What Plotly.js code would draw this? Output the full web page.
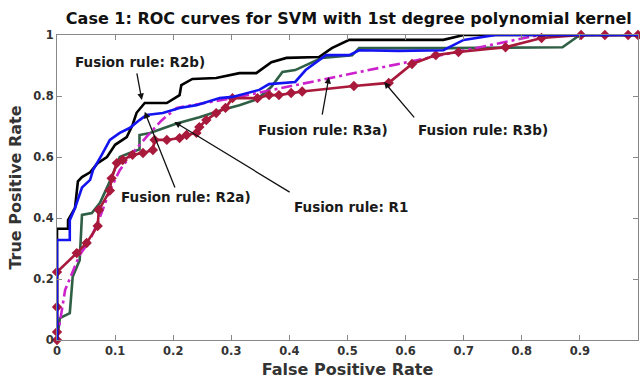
<!DOCTYPE html>
<html>
<head>
<meta charset="utf-8">
<script src="https://cdn.plot.ly/plotly-3.0.1.min.js"></script>
<style>html,body{margin:0;padding:0;background:#fff;}#chart{width:640px;height:380px;}</style>
</head>
<body>
<div id="chart"></div>
<script>
// Fusion rule R2b (black)
const r2bX = [0, 0, 0.019, 0.019, 0.031, 0.036, 0.043, 0.057, 0.07, 0.086, 0.1, 0.12, 0.13, 0.137, 0.151, 0.189, 0.211, 0.214, 0.233, 0.274, 0.314, 0.343, 0.369, 0.395, 0.451, 0.473, 0.503, 0.665, 0.70, 1];
const r2bY = [0, 0.365, 0.365, 0.393, 0.433, 0.52, 0.534, 0.55, 0.58, 0.60, 0.64, 0.665, 0.705, 0.745, 0.777, 0.777, 0.803, 0.836, 0.856, 0.859, 0.875, 0.875, 0.911, 0.925, 0.928, 0.957, 0.984, 0.984, 1, 1];
// Fusion rule R2a (blue)
const r2aX = [0, 0, 0.022, 0.022, 0.031, 0.043, 0.057, 0.062, 0.077, 0.091, 0.108, 0.125, 0.142, 0.154, 0.182, 0.211, 0.24, 0.28, 0.302, 0.348, 0.365, 0.41, 0.428, 0.463, 0.503, 0.52, 0.588, 0.665, 0.70, 0.755, 1];
const r2aY = [0, 0.328, 0.328, 0.393, 0.433, 0.50, 0.525, 0.557, 0.607, 0.656, 0.679, 0.695, 0.721, 0.738, 0.744, 0.761, 0.77, 0.793, 0.797, 0.82, 0.839, 0.846, 0.885, 0.934, 0.934, 0.95, 0.948, 0.95, 0.984, 1, 1];
// Fusion rule R1 (green)
const r1X = [0, 0.005, 0.022, 0.026, 0.027, 0.039, 0.043, 0.06, 0.074, 0.091, 0.1, 0.108, 0.125, 0.142, 0.142, 0.16, 0.177, 0.206, 0.245, 0.285, 0.314, 0.345, 0.369, 0.388, 0.41, 0.456, 0.508, 0.52, 0.674, 0.87, 0.9, 1];
const r1Y = [0, 0.072, 0.088, 0.197, 0.207, 0.262, 0.41, 0.416, 0.45, 0.52, 0.56, 0.60, 0.613, 0.625, 0.672, 0.679, 0.69, 0.71, 0.73, 0.755, 0.77, 0.79, 0.83, 0.879, 0.885, 0.925, 0.934, 0.957, 0.957, 0.96, 1, 1];
// Fusion rule R3a (magenta, dash-dot)
const r3aX = [0, 0.005, 0.014, 0.039, 0.057, 0.074, 0.091, 0.108, 0.13, 0.154, 0.18, 0.206, 0.257, 0.302, 0.83, 1];
const r3aY = [0, 0.055, 0.164, 0.279, 0.328, 0.403, 0.49, 0.557, 0.613, 0.666, 0.72, 0.761, 0.777, 0.793, 1, 1];
// Fusion rule R3b (red, diamonds)
const r3bX = [0, 0, 0, 0, 0.034, 0.051, 0.07, 0.072, 0.091, 0.094, 0.103, 0.113, 0.13, 0.148, 0.165, 0.168, 0.189, 0.211, 0.223, 0.24, 0.245, 0.257, 0.274, 0.29, 0.302, 0.345, 0.365, 0.382, 0.403, 0.422, 0.511, 0.571, 0.611, 0.652, 0.691, 0.772, 0.834, 0.902, 0.943, 0.983, 1];
const r3bY = [0, 0.026, 0.108, 0.223, 0.285, 0.318, 0.374, 0.426, 0.49, 0.53, 0.58, 0.59, 0.607, 0.613, 0.623, 0.656, 0.656, 0.662, 0.672, 0.679, 0.698, 0.721, 0.744, 0.761, 0.793, 0.793, 0.803, 0.803, 0.81, 0.815, 0.833, 0.843, 0.905, 0.934, 0.944, 0.96, 0.99, 1, 1, 1, 1];

const xTicks = [0, 0.1, 0.2, 0.3, 0.4, 0.5, 0.6, 0.7, 0.8, 0.9, 1];
const xTickText = ['0', '0.1', '0.2', '0.3', '0.4', '0.5', '0.6', '0.7', '0.8', '0.9', '1'];
const yTicks = [0, 0.2, 0.4, 0.6, 0.8, 1];
const yTickText = ['0', '0.2', '0.4', '0.6', '0.8', '1'];

// label: [text, textX, textY, headX, headY, tailX, tailY]
const labels = [
  ['Fusion rule: R2b)', 0.142, 0.911, 0.146, 0.787, 0.137, 0.879],
  ['Fusion rule: R2a)', 0.222, 0.469, 0.151, 0.748, 0.204, 0.495],
  ['Fusion rule: R1', 0.506, 0.436, 0.202, 0.715, 0.403, 0.482],
  ['Fusion rule: R3a)', 0.458, 0.689, 0.468, 0.862, 0.456, 0.734],
  ['Fusion rule: R3b)', 0.734, 0.689, 0.563, 0.846, 0.617, 0.725]
];

const FONT = 'DejaVu Sans, Liberation Sans, Arial, sans-serif';

const traces = [
  {x: r1X, y: r1Y, mode: 'lines', line: {color: '#2f5f45', width: 2.6}, name: 'R1'},
  {x: r3aX, y: r3aY, mode: 'lines', line: {color: '#cc22cc', width: 2.6, dash: '11px,4px,3px,4px'}, name: 'R3a'},
  {x: r3bX, y: r3bY, mode: 'lines+markers', line: {color: '#a8193b', width: 2.6},
   marker: {symbol: 'diamond', size: 8, color: '#a8193b'}, cliponaxis: false, name: 'R3b'},
  {x: r2bX, y: r2bY, mode: 'lines', line: {color: '#000000', width: 2.6}, name: 'R2b'},
  {x: r2aX, y: r2aY, mode: 'lines', line: {color: '#1414f0', width: 2.6}, name: 'R2a'}
];
const annotations = [];
labels.forEach(l => {
  annotations.push({x: l[1], y: l[2], xref: 'x', yref: 'y', text: l[0], showarrow: false,
    font: {family: FONT, size: 13.5, color: '#1a1a1a', weight: 'bold'}});
  annotations.push({x: l[3], y: l[4], xref: 'x', yref: 'y', ax: l[5], ay: l[6], axref: 'x', ayref: 'y',
    text: '', showarrow: true, arrowhead: 2, arrowsize: 1, arrowwidth: 1.3, arrowcolor: '#111'});
});

const axisCommon = {
  showgrid: false, zeroline: false, showline: true, linecolor: '#888', linewidth: 1,
  mirror: 'ticks', ticks: 'inside', ticklen: 5, tickcolor: '#888',
  tickfont: {family: FONT, size: 11.5, color: '#333', weight: 'bold'}
};

const layout = {
  width: 640, height: 380,
  margin: {l: 57, r: 2, t: 35, b: 40},
  paper_bgcolor: '#fff', plot_bgcolor: '#fff',
  showlegend: false,
  title: {text: 'Case 1: ROC curves for SVM with 1st degree polynomial kernel',
    font: {family: FONT, size: 16, color: '#111', weight: 'bold'},
    x: 0.545, xref: 'container', xanchor: 'center', y: 0.952, yref: 'container', yanchor: 'middle'},
  xaxis: Object.assign({}, axisCommon, {range: [0, 1], tickvals: xTicks, ticktext: xTickText,
    title: {text: 'False Positive Rate', font: {family: FONT, size: 16, color: '#333', weight: 'bold'}, standoff: 7}}),
  yaxis: Object.assign({}, axisCommon, {range: [0, 1], tickvals: yTicks, ticktext: yTickText,
    title: {text: 'True Positive Rate', font: {family: FONT, size: 16, color: '#333', weight: 'bold'}, standoff: 7}}),
  annotations: annotations
};

Plotly.newPlot('chart', traces, layout, {displayModeBar: false, staticPlot: true});
</script>
</body>
</html>
